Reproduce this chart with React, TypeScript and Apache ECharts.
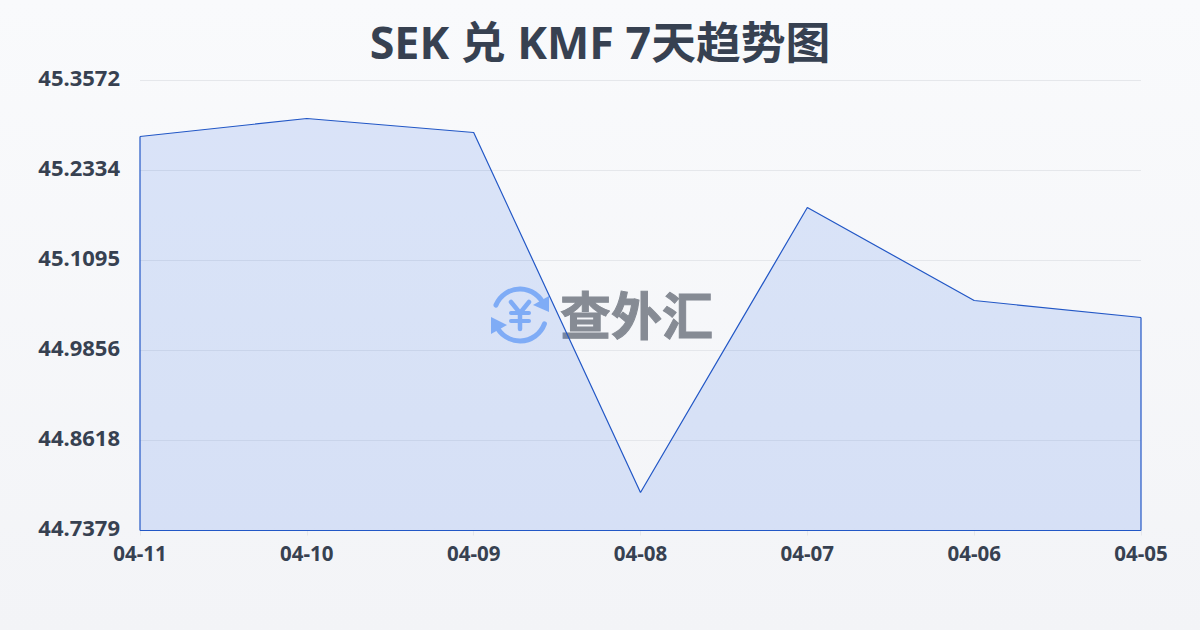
import React, { useEffect, useRef } from "react";
import * as echarts from "echarts";

const titleText = "SEK 兑 KMF 7天趋势图";
const categories = ["04-11", "04-10", "04-09", "04-08", "04-07", "04-06", "04-05"];
const rates = [45.2801, 45.3049, 45.2856, 44.7902, 45.1824, 45.0544, 45.031];
const yTickLabels = ["44.7379", "44.8618", "44.9856", "45.1095", "45.2334", "45.3572"];
const yMin = 44.7379;
const yMax = 45.3572;
const FONT = '"Noto Sans", "Noto Sans CJK SC", sans-serif';
const ICON = "#8fb8f8";
const LINE = "#2257c6";

export default function App() {
  const ref = useRef<HTMLDivElement>(null);
  useEffect(() => {
    const chart = echarts.init(ref.current!, undefined, { renderer: "svg" });
    chart.setOption({
      animation: false,
      backgroundColor: {
        type: "linear", x: 0, y: 0, x2: 0, y2: 1,
        colorStops: [{ offset: 0, color: "#f9fafc" }, { offset: 1, color: "#f3f4f7" }],
      },
      title: {
        text: titleText, left: "center", top: 14,
        textStyle: { fontFamily: FONT, fontSize: 44.8, fontWeight: "bold", color: "#374151" },
      },
      grid: { left: 140, right: 59, top: 80.5, bottom: 99.5, containLabel: false },
      xAxis: {
        type: "category", boundaryGap: false, data: categories,
        axisLine: { show: false },
        axisTick: { show: true, length: 5, lineStyle: { color: "#e5e7eb" } },
        axisLabel: { fontFamily: FONT, fontSize: 20.5, fontWeight: "bold", color: "#374151", margin: 12, hideOverlap: false, showMinLabel: true, showMaxLabel: true, interval: 0 },
      },
      yAxis: {
        type: "value", min: yMin, max: yMax, interval: (yMax - yMin) / 5,
        axisLine: { show: false }, axisTick: { show: false },
        splitLine: { lineStyle: { color: "#e5e7eb", width: 1 } },
        axisLabel: {
          fontFamily: FONT, fontSize: 22, fontWeight: "bold", color: "#374151", margin: 20,
          verticalAlign: "bottom", lineHeight: 7,
          formatter: (_v: number, i: number) => yTickLabels[i],
        },
      },
      graphic: [
        {
          type: "group", z: 0, silent: true,
          children: [
            { type: "arc", shape: { cx: 520, cy: 315, r: 26, startAngle: -2.75, endAngle: -0.35 }, style: { stroke: ICON, lineWidth: 5, fill: "none", lineCap: "round" } },
            { type: "arc", shape: { cx: 520, cy: 315, r: 26, startAngle: 0.35, endAngle: 2.75 }, style: { stroke: ICON, lineWidth: 5, fill: "none", lineCap: "round" } },
            { type: "polygon", shape: { points: [[549, 296], [549, 312], [533, 305]] }, style: { fill: ICON } },
            { type: "polygon", shape: { points: [[491, 317], [507, 325], [491, 334]] }, style: { fill: ICON } },
            { type: "polyline", shape: { points: [[511, 302], [520, 313], [529, 302]] }, style: { stroke: ICON, lineWidth: 4.5, fill: "none", lineCap: "round" } },
            { type: "line", shape: { x1: 520, y1: 313, x2: 520, y2: 329 }, style: { stroke: ICON, lineWidth: 4.5, lineCap: "round" } },
            { type: "line", shape: { x1: 511, y1: 313, x2: 529, y2: 313 }, style: { stroke: ICON, lineWidth: 4, lineCap: "round" } },
            { type: "line", shape: { x1: 511, y1: 321, x2: 529, y2: 321 }, style: { stroke: ICON, lineWidth: 4, lineCap: "round" } },
            { type: "text", x: 560, y: 287, style: { text: "查外汇", fontFamily: '"Noto Sans CJK SC", sans-serif', fontSize: 51, fontWeight: "bold", fill: "#868b94", stroke: "#868b94", lineWidth: 1 } },
          ],
        },
      ],
      series: [
        {
          type: "line", data: rates, symbol: "none", smooth: false, z: 3,
          lineStyle: { color: LINE, width: 1.2 },
          areaStyle: { origin: "start", color: "rgba(37,99,235,0.14)", opacity: 1 },
        },
        {
          // closes the filled area's outline at its two sides and along the baseline
          type: "line", symbol: "none", z: 3, silent: true,
          data: [[categories[0], yMin], [categories[0], rates[0]]],
          lineStyle: { color: LINE, width: 1.2 },
        },
        {
          type: "line", symbol: "none", z: 3, silent: true,
          data: [[categories[6], yMin], [categories[6], rates[6]]],
          lineStyle: { color: LINE, width: 1.2 },
        },
        {
          type: "line", symbol: "none", z: 3, silent: true,
          data: [[categories[0], yMin], [categories[6], yMin]],
          lineStyle: { color: LINE, width: 1.2 },
        },
      ],
    });
    return () => chart.dispose();
  }, []);
  return <div ref={ref} style={{ position: "fixed", left: 0, top: 0, width: 1200, height: 630 }} />;
}
